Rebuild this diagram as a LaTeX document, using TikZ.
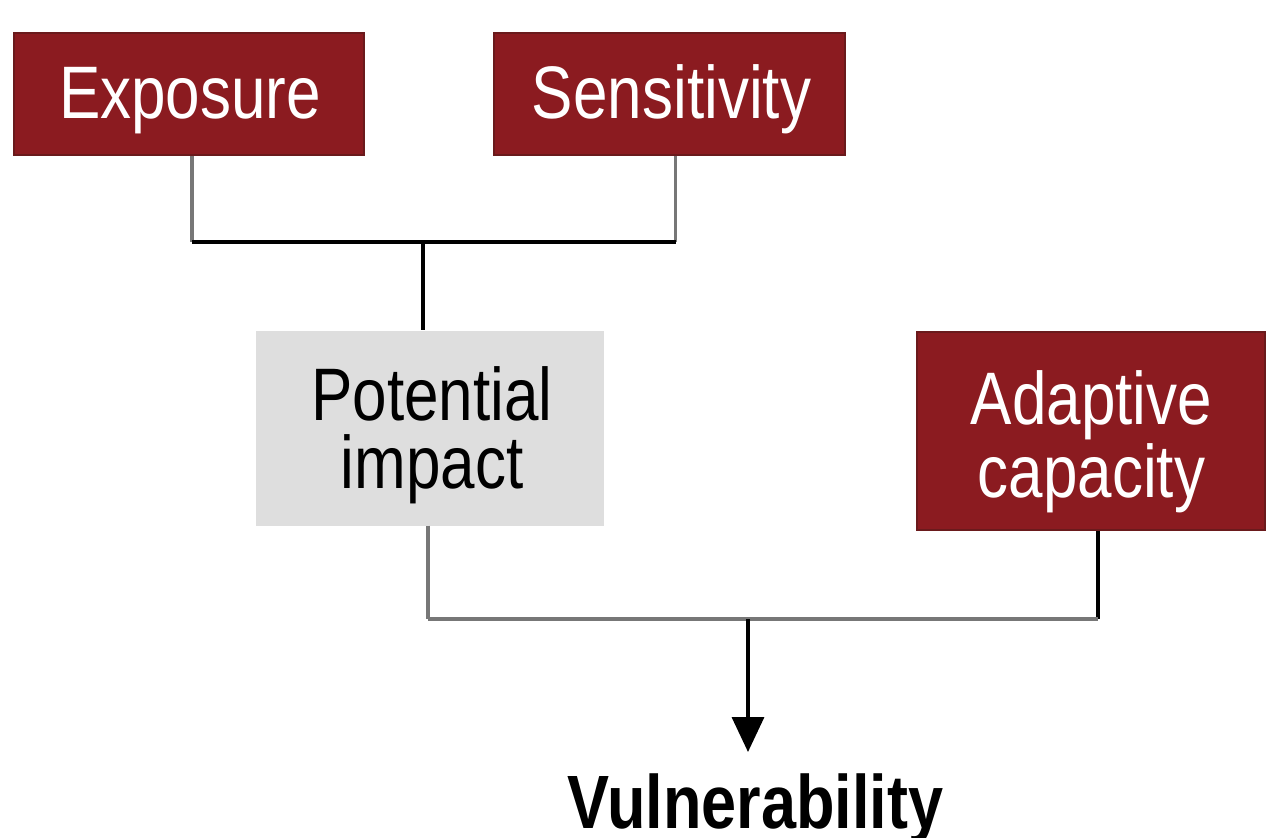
\documentclass[tikz,border=0pt]{standalone}
\usepackage{fontspec}
\setmainfont{Liberation Sans}
\usetikzlibrary{arrows.meta}
\definecolor{boxred}{HTML}{8B1B20}
\definecolor{boxredline}{HTML}{6A1A1C}
\definecolor{boxgray}{HTML}{DEDEDE}
\definecolor{linegray}{HTML}{777777}
\newcommand{\tall}[1]{\scalebox{1}[1.2]{#1}}
\begin{document}
\begin{tikzpicture}[x=1pt,y=-1pt,
  redbox/.style={fill=boxred,draw=boxredline,line width=1.5pt,
    minimum width=350pt,minimum height=122pt,inner sep=0pt},
  graybox/.style={fill=boxgray,draw=none,
    minimum width=348pt,minimum height=195pt,inner sep=0pt},
  lbl/.style={inner sep=0pt,align=center,font=\fontsize{62}{68}\selectfont},
  blk/.style={line width=4pt,black},
  gry/.style={line width=3.5pt,linegray}]
\useasboundingbox (0,0) rectangle (1275,838);
\node[redbox] (ex) at (189,94) {};
\node[lbl,text=white,anchor=base] (ext) at (190,118) {\tall{Exposure}};
\node[redbox,minimum width=351pt] (se) at (669.5,94) {};
\node[lbl,text=white,anchor=base] (set) at (671.5,118) {\tall{Sensitivity}};
\node[graybox] (pi) at (430,428) {};
\node[lbl,text=black] (pit) at (432,435) {\tall{Potential}\\\tall{impact}};
\node[redbox,minimum width=348pt,minimum height=198pt] (ac) at (1091,431) {};
\node[lbl,text=white,font=\fontsize{62}{73}\selectfont] (act) at (1091.5,442) {\tall{Adaptive}\\\tall{capacity}};
\node[anchor=base,inner sep=0pt,font=\bfseries\fontsize{63}{63}\selectfont] (vu) at (755.5,828) {\tall{Vulnerability}};
\coordinate (j1) at (423,242);
\coordinate (j2) at (748,619);
\draw[gry] ([xshift=3pt]ex.south) -- ([xshift=3pt]ex.south |- j1);
\draw[gry] ([xshift=6pt]se.south) -- ([xshift=6pt]se.south |- j1);
\draw[blk] ([xshift=3pt]ex.south |- j1) -- ([xshift=6pt]se.south |- j1);
\draw[blk,line width=3.5pt] (j1) -- (j1 |- pi.north);
\draw[gry] ([xshift=-2pt]pi.south) -- ([xshift=-2pt]pi.south |- j2);
\draw[blk,line width=3.5pt] ([xshift=7pt]ac.south) -- ([xshift=7pt]ac.south |- j2);
\draw[gry] ([xshift=-2pt]pi.south |- j2) -- ([xshift=7pt]ac.south |- j2);
\coordinate (tip) at (748,752);
\draw[blk,line width=3.5pt,-{Triangle[width=32pt,length=35pt]}] (j2) -- (tip);
\end{tikzpicture}
\end{document}
